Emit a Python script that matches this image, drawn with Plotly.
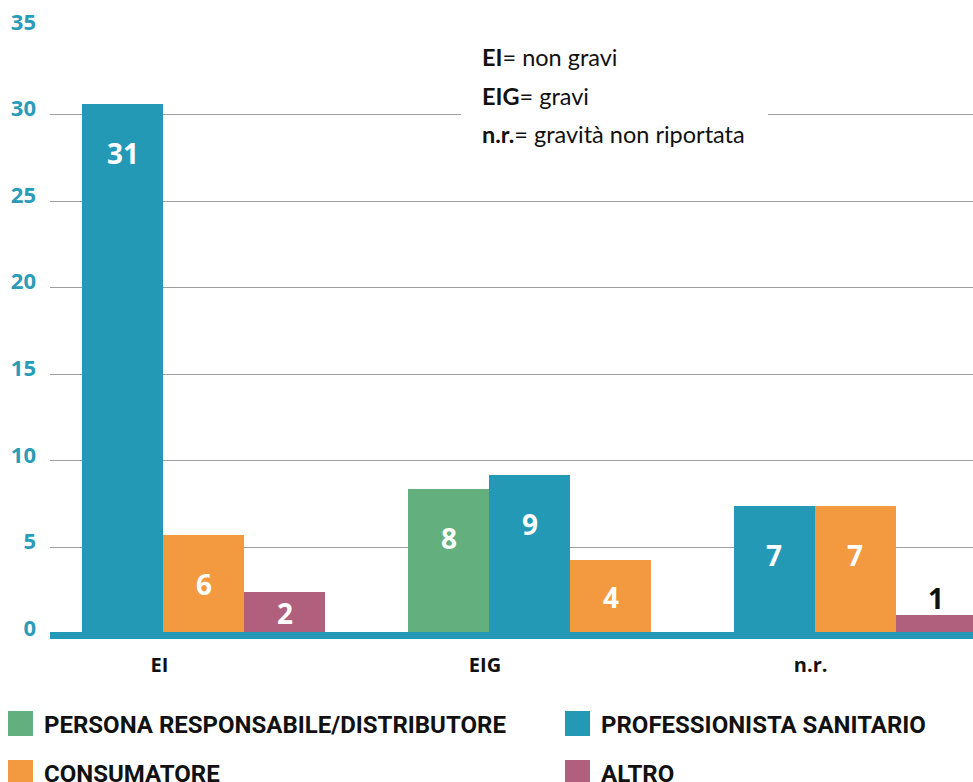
import plotly.graph_objects as go

# ---------------- data ----------------
categories = ["EI", "EIG", "n.r."]
series_names = ["PERSONA RESPONSABILE/DISTRIBUTORE", "PROFESSIONISTA SANITARIO",
                "CONSUMATORE", "ALTRO"]
persona_responsabile = [None, 8.4, None]
professionista_sanitario = [30.6, 9.2, 7.4]
consumatore = [5.7, 4.3, 7.4]
altro = [2.4, None, 1.1]
y_tick_values = [0, 5, 10, 15, 20, 25, 30, 35]
note_keys = ["EI", "EIG", "n.r."]
note_texts = ["= non gravi", "= gravi", "= gravità non riportata"]

series_values = [persona_responsabile, professionista_sanitario, consumatore, altro]
colors = ["#63b07e", "#2399b6", "#f39a41", "#b0607c"]

# ---------------- geometry ----------------
W, H = 973, 782
ML, MR, MT, MB = 50, 0, 28, 142
PW, PH = W - ML - MR, H - MT - MB
Y_MIN, Y_MAX = -0.35, 35
BAR_PX = 81.0
X_MAX = PW / BAR_PX
G0, GSTEP = 0.4, 4.02
PX_PER_UNIT = PH / (Y_MAX - Y_MIN)


def paper_x(px):
    return (px - ML) / PW


def paper_y(py):
    return (H - MB - py) / PH


# pack non-missing bars consecutively inside each category group
positions = [[None] * len(categories) for _ in series_values]
for ci in range(len(categories)):
    slot = 0
    for si, vals in enumerate(series_values):
        if vals[ci] is not None:
            positions[si][ci] = G0 + ci * GSTEP + slot + 0.5
            slot += 1

fig = go.Figure()
annotations = []
for si, vals in enumerate(series_values):
    xs, ys = [], []
    for ci, v in enumerate(vals):
        if v is None:
            continue
        xs.append(positions[si][ci])
        ys.append(v)
        hpx = v * PX_PER_UNIT
        if hpx < 30:
            shift, col = 17, "#111111"
        else:
            shift, col = -min(49, hpx / 2), "white"
        annotations.append(dict(
            x=positions[si][ci], y=v, xref="x", yref="y", text=f"{round(v):d}",
            showarrow=False, yshift=shift, yanchor="middle",
            font=dict(family="Open Sans", size=28, color=col, weight=700)))
    fig.add_trace(go.Bar(x=xs, y=ys, width=1.0, name=series_names[si],
                         marker=dict(color=colors[si], line=dict(width=0)),
                         showlegend=False))

# notes box
shapes = [
    dict(type="rect", xref="paper", yref="paper", x0=paper_x(461), x1=paper_x(768),
         y0=paper_y(160), y1=paper_y(40), fillcolor="white", line=dict(width=0),
         layer="above"),
    # thick teal baseline
    dict(type="rect", xref="paper", yref="y", x0=0, x1=1, y0=-0.29, y1=0.115,
         fillcolor="#2399b6", line=dict(width=0), layer="above"),
]
for i, (k, t) in enumerate(zip(note_keys, note_texts)):
    annotations.append(dict(
        x=paper_x(480), y=paper_y(57 + i * 38.5), xref="paper", yref="paper",
        xanchor="left", yanchor="middle", showarrow=False,
        text=f"<b>{k}</b>{t}", font=dict(family="Lato", size=23.5, color="#111111")))

# manual legend
leg_x = [8, 565]
leg_y = [723.5, 772.5]
for si, name in enumerate(series_names):
    col_i, row_i = si % 2, si // 2
    sx, sy = leg_x[col_i], leg_y[row_i]
    shapes.append(dict(type="rect", xref="paper", yref="paper",
                       x0=paper_x(sx), x1=paper_x(sx + 25),
                       y0=paper_y(sy + 12.5), y1=paper_y(sy - 12.5),
                       fillcolor=colors[si], line=dict(width=0)))
    annotations.append(dict(
        x=paper_x(sx + 34), y=paper_y(sy + 1), xref="paper", yref="paper",
        xanchor="left", yanchor="middle", showarrow=False, text=f"<b>{name}</b>",
        font=dict(family="Roboto", size=24, color="#111111")))

tick_x = [G0 + ci * GSTEP + 0.95 for ci in range(len(categories))]

fig.update_layout(
    width=W, height=H, margin=dict(l=ML, r=MR, t=MT, b=MB, pad=0),
    paper_bgcolor="white", plot_bgcolor="white",
    bargap=0, showlegend=False,
    xaxis=dict(range=[0, X_MAX], tickvals=tick_x, ticktext=[f"<b>{c}</b>" for c in categories],
               showgrid=False, zeroline=False, showline=False, ticks="",
               tickfont=dict(family="Open Sans", size=20, color="#111111"),
               ticklabelstandoff=11, fixedrange=True),
    yaxis=dict(range=[Y_MIN, Y_MAX], tickvals=y_tick_values,
               ticktext=[f"<b>{v}</b>" for v in y_tick_values],
               showgrid=True, gridcolor="#9e9e9e", gridwidth=1.3,
               zeroline=False, showline=False, ticks="",
               tickfont=dict(family="Open Sans", size=22, color="#2a9bb8"),
               ticklabelstandoff=13, ticklabelshift=-6, fixedrange=True),
    shapes=shapes, annotations=annotations,
)

fig.write_html("out.html", config={"displayModeBar": False},
               post_script="document.body.style.margin='0px';")
